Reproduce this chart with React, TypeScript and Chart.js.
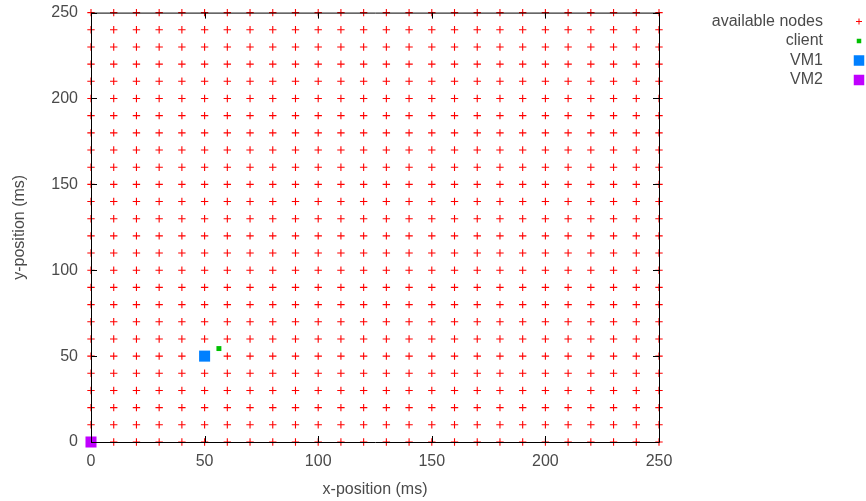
import React, { useEffect, useRef } from 'react';
import { Chart, registerables } from 'chart.js';

Chart.register(...registerables);

// ---- data ----
const gridXValues = [0, 10, 20, 30, 40, 50, 60, 70, 80, 90, 100, 110, 120, 130, 140, 150, 160, 170, 180, 190, 200, 210, 220, 230, 240, 250];
const gridYValues = [0, 10, 20, 30, 40, 50, 60, 70, 80, 90, 100, 110, 120, 130, 140, 150, 160, 170, 180, 190, 200, 210, 220, 230, 240, 250];
const clientX = [56.3];
const clientY = [54.4];
const vm1X = [50];
const vm1Y = [50];
const vm2X = [0];
const vm2Y = [0];
const axisTickValues = [0, 50, 100, 150, 200, 250];
const seriesLabels = ['available nodes', 'client', 'VM1', 'VM2'];
const xTitle = 'x-position (ms)';
const yTitle = 'y-position (ms)';

const FONT = "'Liberation Sans', Arial, sans-serif";
const FSIZE = 16;
const TEXT = '#4a4a4a';

const toPoints = (xs: number[], ys: number[]) => xs.map((x, i) => ({ x, y: ys[i] }));
const gridPoints: { x: number; y: number }[] = [];
gridXValues.forEach((x) => gridYValues.forEach((y) => gridPoints.push({ x, y })));

const borderPlugin = {
  id: 'gpBorder',
  afterDatasetsDraw(chart: any) {
    const { ctx, chartArea } = chart;
    const xs = chart.scales.x;
    const ys = chart.scales.y;
    const { left, right, top, bottom } = chartArea;
    ctx.save();
    ctx.strokeStyle = '#000';
    ctx.lineWidth = 1;
    ctx.beginPath();
    ctx.rect(left + 0.5, top + 0.5, right - left, bottom - top);
    const tl = 6;
    axisTickValues.forEach((v) => {
      const px = Math.round(xs.getPixelForValue(v)) + 0.5;
      ctx.moveTo(px, bottom);
      ctx.lineTo(px, bottom - tl);
      ctx.moveTo(px, top);
      ctx.lineTo(px, top + tl);
      const py = Math.round(ys.getPixelForValue(v)) + 0.5;
      ctx.moveTo(left, py);
      ctx.lineTo(left + tl, py);
      ctx.moveTo(right, py);
      ctx.lineTo(right - tl, py);
    });
    ctx.stroke();
    ctx.restore();
  },
};

const legendPlugin = {
  id: 'gpLegend',
  afterDraw(chart: any) {
    const { ctx } = chart;
    const textRight = 823;
    const symX = 859;
    const rows = [21.5, 41, 60.5, 80];
    ctx.save();
    ctx.font = `${FSIZE}px ${FONT}`;
    ctx.textAlign = 'right';
    ctx.textBaseline = 'middle';
    chart.data.datasets.forEach((ds: any, i: number) => {
      const y = rows[i];
      ctx.fillStyle = TEXT;
      ctx.fillText(ds.label, textRight, y);
      if (ds.pointStyle === 'cross') {
        ctx.strokeStyle = ds.borderColor;
        ctx.lineWidth = 1;
        ctx.beginPath();
        ctx.moveTo(symX - 3, y);
        ctx.lineTo(symX + 3, y);
        ctx.moveTo(symX, y - 3);
        ctx.lineTo(symX, y + 3);
        ctx.stroke();
      } else {
        const s = ds.legendSize;
        ctx.fillStyle = ds.backgroundColor;
        ctx.fillRect(symX - s / 2, y - s / 2, s, s);
      }
    });
    ctx.restore();
  },
};

export default function App() {
  const ref = useRef<HTMLCanvasElement | null>(null);
  useEffect(() => {
    if (!ref.current) return;
    const chart = new Chart(ref.current, {
      type: 'scatter',
      data: {
        datasets: [
          {
            label: seriesLabels[0],
            data: gridPoints,
            pointStyle: 'cross',
            pointRadius: 3.7,
            borderColor: '#ff0000',
            backgroundColor: '#ff0000',
            borderWidth: 1.1,
            clip: false,
            order: 4,
          } as any,
          {
            label: seriesLabels[1],
            data: toPoints(clientX, clientY),
            pointStyle: 'rect',
            pointRadius: 3.5,
            borderWidth: 0,
            borderColor: '#00c000',
            backgroundColor: '#00c000',
            legendSize: 4.5,
            clip: false,
            order: 3,
          } as any,
          {
            label: seriesLabels[2],
            data: toPoints(vm1X, vm1Y),
            pointStyle: 'rect',
            pointRadius: 7.8,
            borderWidth: 0,
            borderColor: '#0080ff',
            backgroundColor: '#0080ff',
            legendSize: 10.5,
            clip: false,
            order: 2,
          } as any,
          {
            label: seriesLabels[3],
            data: toPoints(vm2X, vm2Y),
            pointStyle: 'rect',
            pointRadius: 7.8,
            borderWidth: 0,
            borderColor: '#c000ff',
            backgroundColor: '#c000ff',
            legendSize: 10.5,
            clip: false,
            order: 1,
          } as any,
        ],
      },
      options: {
        animation: false,
        responsive: false,
        events: [],
        layout: { padding: { left: 0, top: 3, right: 207, bottom: 0 } },
        plugins: {
          legend: { display: false },
          tooltip: { enabled: false },
          title: { display: false },
        },
        scales: {
          x: {
            type: 'linear',
            min: 0,
            max: 250,
            grid: { display: false, drawTicks: false },
            border: { display: false },
            ticks: {
              stepSize: 50,
              padding: 10,
              color: TEXT,
              font: { family: FONT, size: FSIZE },
            },
            title: {
              display: true,
              text: xTitle,
              color: TEXT,
              font: { family: FONT, size: FSIZE },
              padding: { top: 0, bottom: 1.4 },
            },
            afterFit: (scale: any) => {
              scale.height = 59;
            },
          },
          y: {
            type: 'linear',
            min: 0,
            max: 250,
            grid: { display: false, drawTicks: true, tickLength: 10 },
            border: { display: false },
            ticks: {
              stepSize: 50,
              padding: 3,
              color: TEXT,
              font: { family: FONT, size: FSIZE },
            },
            title: {
              display: true,
              text: yTitle,
              color: TEXT,
              font: { family: FONT, size: FSIZE },
              padding: { top: 10.4, bottom: 0 },
            },
            afterFit: (scale: any) => {
              scale.width = 91;
            },
          },
        },
      },
      plugins: [borderPlugin, legendPlugin],
    } as any);
    return () => chart.destroy();
  }, []);

  return (
    <div style={{ position: 'absolute', left: 0, top: 0, width: 866, height: 501, background: '#fff' }}>
      <canvas ref={ref} width={866} height={501} />
    </div>
  );
}
